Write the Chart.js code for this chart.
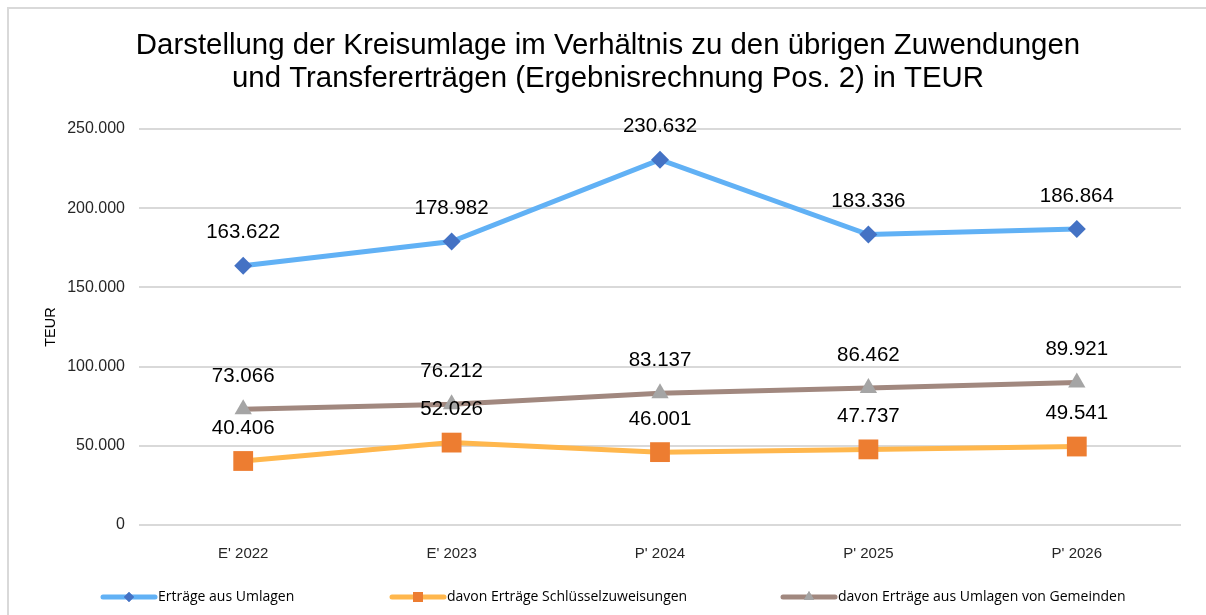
<!DOCTYPE html>
<html><head><meta charset="utf-8">
<script src="https://cdn.jsdelivr.net/npm/chart.js@4"></script>
<style>html,body{margin:0;padding:0;background:#fff;}#wrap{position:relative;width:1206px;height:615px;}</style>
</head><body><div id="wrap"><canvas id="c" width="1206" height="615"></canvas></div>
<script>
const categories = ["E' 2022", "E' 2023", "P' 2024", "P' 2025", "P' 2026"];
const ertraegeUmlagen = [163622, 178982, 230632, 183336, 186864];
const schluesselzuweisungen = [40406, 52026, 46001, 47737, 49541];
const umlagenGemeinden = [73066, 76212, 83137, 86462, 89921];
const seriesNames = ["Erträge aus Umlagen", "davon Erträge Schlüsselzuweisungen", "davon Erträge aus Umlagen von Gemeinden"];
const yTicks = [0, 50000, 100000, 150000, 200000, 250000];
const titleLines = ["Darstellung der Kreisumlage im Verhältnis zu den übrigen Zuwendungen", "und Transfererträgen (Ergebnisrechnung Pos. 2) in TEUR"];

function fmt(v){ return String(Math.round(v)).replace(/\B(?=(\d{3})+(?!\d))/g, '.'); }

const borderPlugin = {
  id: 'frame',
  beforeDraw(chart){
    const ctx = chart.ctx; ctx.save();
    ctx.fillStyle = '#fff'; ctx.fillRect(0,0,chart.width,chart.height);
    ctx.strokeStyle = '#d9d9d9'; ctx.lineWidth = 2;
    ctx.beginPath(); ctx.moveTo(8, 700); ctx.lineTo(8, 8); ctx.lineTo(1300, 8); ctx.stroke();
    ctx.font = '29.4px "Liberation Sans", Arial, sans-serif';
    ctx.fillStyle = '#000'; ctx.textAlign = 'center'; ctx.textBaseline = 'middle';
    titleLines.forEach((t, i) => ctx.fillText(t, 608, 46 + i * 33));
    ctx.restore();
  }
};

const labelPlugin = {
  id: 'vals',
  afterDatasetsDraw(chart){
    const ctx = chart.ctx; ctx.save();
    ctx.font = '20.5px "Liberation Sans", Arial, sans-serif';
    ctx.fillStyle = '#000'; ctx.textAlign = 'center'; ctx.textBaseline = 'middle';
    chart.data.datasets.forEach((ds, i) => {
      const meta = chart.getDatasetMeta(i);
      meta.data.forEach((pt, j) => {
        ctx.fillText(fmt(ds.data[j]), pt.x, pt.y - 33);
      });
    });
    ctx.restore();
  }
};

const legendPlugin = {
  id: 'customLegend',
  afterDraw(chart){
    const ctx = chart.ctx; ctx.save();
    const xs = [101, 390, 781];
    const y = 597;
    ctx.font = '14px "Open Sans", sans-serif';
    ctx.textBaseline = 'middle'; ctx.textAlign = 'left';
    chart.data.datasets.forEach((ds, i) => {
      const x = xs[i];
      ctx.strokeStyle = ds.borderColor; ctx.lineWidth = 5; ctx.lineCap = 'round';
      ctx.beginPath(); ctx.moveTo(x+2, y); ctx.lineTo(x + 54, y); ctx.stroke();
      ctx.fillStyle = ds.pointBackgroundColor;
      ctx.beginPath();
      Chart.helpers.drawPoint(ctx, {pointStyle: ds.pointStyle, radius: ds.legendR, rotation: 0, borderWidth: 0}, x + 28, y);
      ctx.fill();
      ctx.fillStyle = '#000';
      ctx.fillText(ds.label, x + 57, y);
    });
    ctx.restore();
  }
};

new Chart(document.getElementById('c'), {
  type: 'line',
  data: {
    labels: categories,
    datasets: [
      { label: seriesNames[0], data: ertraegeUmlagen, borderColor: '#61b1f5', borderWidth: 5,
        pointStyle: 'rectRot', pointRadius: 9, pointHoverRadius: 9, legendR: 5,
        pointBackgroundColor: '#4472c4', pointBorderColor: '#4472c4', pointBorderWidth: 0 },
      { label: seriesNames[1], data: schluesselzuweisungen, borderColor: '#ffb74d', borderWidth: 5,
        pointStyle: 'rect', pointRadius: 14, pointHoverRadius: 14, legendR: 7,
        pointBackgroundColor: '#ed7d31', pointBorderColor: '#ed7d31', pointBorderWidth: 0 },
      { label: seriesNames[2], data: umlagenGemeinden, borderColor: '#a1887f', borderWidth: 5,
        pointStyle: 'triangle', pointRadius: 10, pointHoverRadius: 10, legendR: 6,
        pointBackgroundColor: '#a5a5a5', pointBorderColor: '#a5a5a5', pointBorderWidth: 0 }
    ]
  },
  options: {
    responsive: false, animation: false,
    layout: { padding: { left: 0, right: 25, top: 129, bottom: 40 } },
    plugins: {
      legend: { display: false }, tooltip: { enabled: false }, title: { display: false }
    },
    scales: {
      x: {
        offset: true,
        grid: { display: false }, border: { display: false },
        ticks: { color: '#262626', padding: 12, font: { family: '"Liberation Sans", Arial, sans-serif', size: 15 } }
      },
      y: {
        min: 0, max: 250000,
        afterBuildTicks(scale){ scale.ticks = yTicks.map(v => ({value: v})); },
        afterFit(scale){ scale.width = 139; },
        grid: { color: '#d9d9d9', lineWidth: 2, drawTicks: false },
        border: { display: false },
        ticks: { color: '#262626', padding: 14, callback: v => fmt(v),
          font: { family: '"Liberation Sans", Arial, sans-serif', size: 16 } },
        title: { display: true, text: 'TEUR', color: '#000', padding: { top: 42, bottom: 0 },
          font: { family: '"Liberation Sans", Arial, sans-serif', size: 14.5 } }
      }
    }
  },
  plugins: [borderPlugin, labelPlugin, legendPlugin]
});
</script></body></html>
